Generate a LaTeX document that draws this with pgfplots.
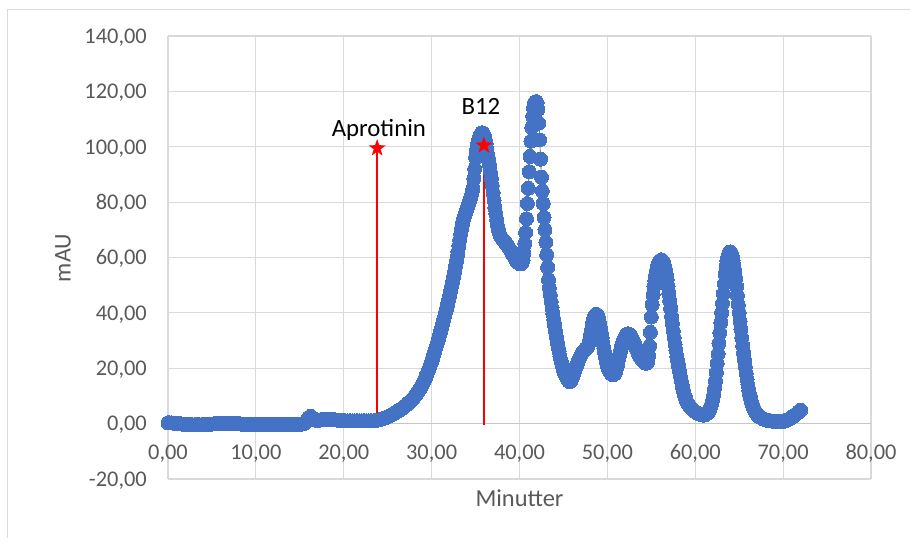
\documentclass[border=0pt]{standalone}
\usepackage{fontspec}
\setmainfont{Carlito}
\usepackage{pgfplots}
\pgfplotsset{compat=1.18}
\usepackage{pgfplotstable}
\definecolor{serblue}{HTML}{4472C4}
\definecolor{txtgray}{HTML}{595959}
\definecolor{gridgray}{HTML}{D9D9D9}
\definecolor{zerogray}{HTML}{C6C6C6}
\definecolor{annred}{HTML}{FF0000}
\pgfdeclareplotmark{fstar}{%
  \pgfpathmoveto{\pgfpointpolar{90}{\pgfplotmarksize}}%
  \pgfpathlineto{\pgfpointpolar{126}{0.4\pgfplotmarksize}}%
  \pgfpathlineto{\pgfpointpolar{162}{\pgfplotmarksize}}%
  \pgfpathlineto{\pgfpointpolar{198}{0.4\pgfplotmarksize}}%
  \pgfpathlineto{\pgfpointpolar{234}{\pgfplotmarksize}}%
  \pgfpathlineto{\pgfpointpolar{270}{0.4\pgfplotmarksize}}%
  \pgfpathlineto{\pgfpointpolar{306}{\pgfplotmarksize}}%
  \pgfpathlineto{\pgfpointpolar{342}{0.4\pgfplotmarksize}}%
  \pgfpathlineto{\pgfpointpolar{18}{\pgfplotmarksize}}%
  \pgfpathlineto{\pgfpointpolar{54}{0.4\pgfplotmarksize}}%
  \pgfpathclose
  \pgfusepathqfill}
\pgfplotstableread[row sep=\\]{
x y\\
0.0 0.3\\ 0.2 0.3\\ 0.4 0.3\\ 0.6 0.2\\ 0.8 0.2\\ 1.0 0.2\\ 1.2 0.1\\ 1.4 0.0\\ 1.6 -0.2\\ 1.8 -0.3\\
2.0 -0.3\\ 2.2 -0.4\\ 2.4 -0.4\\ 2.6 -0.4\\ 2.8 -0.4\\ 3.0 -0.4\\ 3.2 -0.4\\ 3.4 -0.4\\ 3.6 -0.4\\ 3.8 -0.4\\
4.0 -0.3\\ 4.2 -0.3\\ 4.4 -0.3\\ 4.6 -0.3\\ 4.8 -0.2\\ 5.0 -0.2\\ 5.2 -0.1\\ 5.4 0.0\\ 5.6 0.1\\ 5.8 0.1\\
6.0 0.2\\ 6.2 0.2\\ 6.4 0.2\\ 6.6 0.2\\ 6.8 0.2\\ 7.0 0.1\\ 7.2 0.1\\ 7.4 0.1\\ 7.6 0.0\\ 7.8 0.0\\
8.0 0.0\\ 8.2 -0.1\\ 8.4 -0.2\\ 8.6 -0.3\\ 8.8 -0.3\\ 9.0 -0.3\\ 9.2 -0.3\\ 9.4 -0.3\\ 9.6 -0.3\\ 9.8 -0.3\\
10.0 -0.3\\ 10.2 -0.3\\ 10.4 -0.3\\ 10.6 -0.3\\ 10.8 -0.3\\ 11.0 -0.3\\ 11.2 -0.3\\ 11.4 -0.3\\ 11.6 -0.3\\ 11.8 -0.3\\
12.0 -0.3\\ 12.2 -0.3\\ 12.4 -0.3\\ 12.6 -0.3\\ 12.8 -0.3\\ 13.0 -0.3\\ 13.2 -0.3\\ 13.4 -0.3\\ 13.6 -0.3\\ 13.8 -0.3\\
14.0 -0.3\\ 14.2 -0.3\\ 14.4 -0.3\\ 14.6 -0.3\\ 14.8 -0.3\\ 15.0 -0.3\\ 15.2 -0.2\\ 15.4 -0.1\\ 15.6 0.3\\ 15.8 1.2\\
16.0 2.2\\ 16.2 2.6\\ 16.4 2.3\\ 16.6 1.6\\ 16.8 1.2\\ 17.0 1.1\\ 17.2 1.2\\ 17.4 1.4\\ 17.6 1.5\\ 17.8 1.5\\
18.0 1.5\\ 18.2 1.5\\ 18.4 1.5\\ 18.6 1.5\\ 18.8 1.4\\ 19.0 1.4\\ 19.2 1.3\\ 19.4 1.2\\ 19.6 1.2\\ 19.8 1.1\\
20.0 1.1\\ 20.2 1.0\\ 20.4 1.0\\ 20.6 1.0\\ 20.8 1.0\\ 21.0 1.0\\ 21.2 1.0\\ 21.4 1.0\\ 21.6 1.0\\ 21.8 1.0\\
22.0 1.0\\ 22.2 1.0\\ 22.4 1.0\\ 22.6 1.0\\ 22.8 1.0\\ 23.0 1.0\\ 23.2 1.0\\ 23.4 1.0\\ 23.6 1.1\\ 23.8 1.2\\
24.0 1.4\\ 24.2 1.5\\ 24.4 1.7\\ 24.6 1.9\\ 24.8 2.2\\ 25.0 2.5\\ 25.2 2.8\\ 25.4 3.1\\ 25.6 3.5\\ 25.8 3.8\\
26.0 4.2\\ 26.1 4.4\\ 26.2 4.6\\ 26.3 4.8\\ 26.4 5.0\\ 26.5 5.2\\ 26.6 5.4\\ 26.7 5.6\\ 26.8 5.9\\ 26.9 6.1\\
27.0 6.4\\ 27.1 6.7\\ 27.2 7.0\\ 27.3 7.2\\ 27.4 7.5\\ 27.5 7.8\\ 27.6 8.1\\ 27.7 8.5\\ 27.8 8.8\\ 27.9 9.2\\
28.0 9.5\\ 28.1 9.9\\ 28.2 10.3\\ 28.3 10.8\\ 28.4 11.2\\ 28.5 11.7\\ 28.6 12.2\\ 28.7 12.7\\ 28.8 13.3\\ 28.9 13.9\\
29.0 14.5\\ 29.1 15.2\\ 29.2 15.9\\ 29.3 16.6\\ 29.4 17.3\\ 29.5 18.0\\ 29.6 18.9\\ 29.7 19.8\\ 29.8 20.7\\ 29.9 21.6\\
30.0 22.5\\ 30.1 23.5\\ 30.2 24.5\\ 30.3 25.5\\ 30.4 26.5\\ 30.5 27.5\\ 30.6 28.6\\ 30.7 29.7\\ 30.8 30.8\\ 30.9 31.9\\
31.0 33.0\\ 31.1 34.2\\ 31.2 35.4\\ 31.3 36.6\\ 31.4 37.8\\ 31.5 39.0\\ 31.6 40.3\\ 31.7 41.6\\ 31.8 42.9\\ 31.9 44.2\\
32.0 45.5\\ 32.1 47.0\\ 32.2 48.5\\ 32.3 50.0\\ 32.4 51.5\\ 32.5 53.0\\ 32.6 54.8\\ 32.7 56.6\\ 32.8 58.4\\ 32.9 60.2\\
33.0 62.0\\ 33.1 64.2\\ 33.2 66.4\\ 33.3 68.5\\ 33.4 70.2\\ 33.5 71.9\\ 33.6 73.5\\ 33.7 74.5\\ 33.8 75.5\\ 33.9 76.5\\
34.0 77.5\\ 34.1 78.4\\ 34.2 79.3\\ 34.3 80.1\\ 34.4 81.0\\ 34.5 82.2\\ 34.6 83.5\\ 34.7 85.0\\ 34.8 88.5\\ 34.9 92.0\\
35.0 96.0\\ 35.1 98.5\\ 35.2 100.5\\ 35.3 102.0\\ 35.4 103.2\\ 35.5 104.0\\ 35.6 104.6\\ 35.7 105.0\\ 35.8 105.0\\ 35.9 104.7\\
36.0 104.0\\ 36.1 102.6\\ 36.2 101.0\\ 36.3 99.0\\ 36.4 97.0\\ 36.5 95.0\\ 36.6 93.0\\ 36.7 90.7\\ 36.8 88.4\\ 36.9 86.0\\
37.0 83.3\\ 37.1 80.6\\ 37.2 78.0\\ 37.3 75.8\\ 37.4 73.6\\ 37.5 71.5\\ 37.6 70.2\\ 37.7 69.0\\ 37.8 68.0\\ 37.9 67.4\\
38.0 67.0\\ 38.1 66.5\\ 38.2 66.1\\ 38.3 65.7\\ 38.4 65.3\\ 38.5 64.9\\ 38.6 64.5\\ 38.7 64.0\\ 38.8 63.5\\ 38.9 63.0\\
39.0 62.5\\ 39.1 61.9\\ 39.2 61.4\\ 39.3 60.8\\ 39.4 60.2\\ 39.5 59.6\\ 39.6 59.0\\ 39.7 58.6\\ 39.8 58.2\\ 39.9 58.0\\
40.0 57.8\\ 40.1 57.7\\ 40.2 57.8\\ 40.3 58.1\\ 40.4 59.0\\ 40.5 61.5\\ 40.6 65.0\\ 40.7 69.0\\ 40.8 74.0\\ 40.9 79.5\\
41.0 85.0\\ 41.1 91.0\\ 41.2 96.5\\ 41.3 102.0\\ 41.4 107.0\\ 41.5 111.0\\ 41.6 114.0\\ 41.7 115.5\\ 41.8 116.2\\ 41.9 116.3\\
42.0 115.8\\ 42.1 113.5\\ 42.2 108.5\\ 42.3 102.5\\ 42.4 95.5\\ 42.5 89.0\\ 42.6 84.0\\ 42.7 79.5\\ 42.8 74.5\\ 42.9 70.0\\
43.0 65.5\\ 43.1 61.0\\ 43.2 56.5\\ 43.3 52.0\\ 43.4 49.0\\ 43.5 46.5\\ 43.6 44.0\\ 43.7 41.8\\ 43.8 39.7\\ 43.9 37.5\\
44.0 35.4\\ 44.1 33.3\\ 44.2 31.3\\ 44.3 29.4\\ 44.4 27.6\\ 44.5 26.0\\ 44.6 24.4\\ 44.7 23.0\\ 44.8 21.8\\ 44.9 20.6\\
45.0 19.5\\ 45.1 18.6\\ 45.2 17.8\\ 45.3 17.0\\ 45.4 16.3\\ 45.5 15.8\\ 45.6 15.4\\ 45.7 15.2\\ 45.8 15.3\\ 45.9 15.7\\
46.0 16.4\\ 46.1 17.3\\ 46.2 18.3\\ 46.3 19.3\\ 46.4 20.2\\ 46.5 21.0\\ 46.6 21.8\\ 46.7 22.6\\ 46.8 23.3\\ 46.9 24.0\\
47.0 24.7\\ 47.1 25.3\\ 47.2 25.8\\ 47.3 26.2\\ 47.4 26.6\\ 47.5 27.0\\ 47.6 27.3\\ 47.7 27.6\\ 47.8 28.0\\ 47.9 29.0\\
48.0 30.5\\ 48.1 32.2\\ 48.2 34.0\\ 48.3 35.8\\ 48.4 37.2\\ 48.5 38.3\\ 48.6 39.1\\ 48.7 39.5\\ 48.8 39.4\\ 48.9 38.8\\
49.0 37.8\\ 49.1 36.4\\ 49.2 34.8\\ 49.3 33.0\\ 49.4 31.1\\ 49.5 29.2\\ 49.6 27.3\\ 49.7 25.5\\ 49.8 23.8\\ 49.9 22.3\\
50.0 21.0\\ 50.1 20.0\\ 50.2 19.2\\ 50.3 18.6\\ 50.4 18.2\\ 50.5 17.9\\ 50.6 17.7\\ 50.7 17.7\\ 50.8 17.9\\ 50.9 18.4\\
51.0 19.3\\ 51.1 20.5\\ 51.2 21.9\\ 51.3 23.4\\ 51.4 25.0\\ 51.5 26.4\\ 51.6 27.7\\ 51.7 28.8\\ 51.8 29.8\\ 51.9 30.6\\
52.0 31.3\\ 52.1 31.8\\ 52.2 32.2\\ 52.3 32.4\\ 52.4 32.4\\ 52.5 32.2\\ 52.6 31.9\\ 52.7 31.4\\ 52.8 30.8\\ 52.9 30.1\\
53.0 29.4\\ 53.1 28.7\\ 53.2 27.9\\ 53.3 27.1\\ 53.4 26.3\\ 53.5 25.5\\ 53.6 24.8\\ 53.7 24.2\\ 53.8 23.7\\ 53.9 23.2\\
54.0 22.8\\ 54.1 22.4\\ 54.2 22.1\\ 54.3 21.9\\ 54.4 21.8\\ 54.5 21.9\\ 54.6 22.6\\ 54.7 24.5\\ 54.8 28.0\\ 54.9 33.0\\
55.0 38.5\\ 55.1 43.0\\ 55.2 46.5\\ 55.3 49.5\\ 55.4 51.8\\ 55.5 53.8\\ 55.6 55.4\\ 55.7 56.7\\ 55.8 57.7\\ 55.9 58.4\\
56.0 58.9\\ 56.1 59.1\\ 56.2 59.1\\ 56.3 58.7\\ 56.4 58.0\\ 56.5 57.0\\ 56.6 55.8\\ 56.7 54.0\\ 56.8 52.0\\ 56.9 49.5\\
57.0 47.0\\ 57.1 44.3\\ 57.2 41.5\\ 57.3 38.7\\ 57.4 36.0\\ 57.5 33.5\\ 57.6 31.0\\ 57.7 28.7\\ 57.8 26.5\\ 57.9 24.4\\
58.0 22.5\\ 58.1 20.7\\ 58.2 19.0\\ 58.3 17.2\\ 58.4 15.5\\ 58.5 14.0\\ 58.6 12.5\\ 58.7 11.2\\ 58.8 10.0\\ 58.9 9.1\\
59.0 8.2\\ 59.1 7.6\\ 59.2 7.1\\ 59.3 6.6\\ 59.4 6.2\\ 59.5 5.8\\ 59.6 5.4\\ 59.7 5.1\\ 59.8 4.8\\ 59.9 4.5\\
60.0 4.3\\ 60.1 4.1\\ 60.2 3.9\\ 60.3 3.7\\ 60.4 3.6\\ 60.5 3.5\\ 60.6 3.4\\ 60.7 3.3\\ 60.8 3.2\\ 60.9 3.1\\
61.0 3.1\\ 61.1 3.2\\ 61.2 3.3\\ 61.3 3.5\\ 61.4 3.8\\ 61.5 4.2\\ 61.6 4.7\\ 61.7 5.4\\ 61.8 6.3\\ 61.9 7.4\\
62.0 8.8\\ 62.1 10.5\\ 62.2 12.8\\ 62.3 15.5\\ 62.4 18.5\\ 62.5 21.8\\ 62.6 25.2\\ 62.7 29.0\\ 62.8 32.8\\ 62.9 36.5\\
63.0 40.0\\ 63.1 43.5\\ 63.2 47.0\\ 63.3 50.5\\ 63.4 54.0\\ 63.5 56.8\\ 63.6 58.8\\ 63.7 60.3\\ 63.8 61.3\\ 63.9 61.9\\
64.0 62.0\\ 64.1 61.6\\ 64.2 60.6\\ 64.3 59.0\\ 64.4 57.2\\ 64.5 55.0\\ 64.6 52.3\\ 64.7 49.5\\ 64.8 46.3\\ 64.9 43.0\\
65.0 40.0\\ 65.1 37.0\\ 65.2 34.0\\ 65.3 31.0\\ 65.4 28.2\\ 65.5 25.5\\ 65.6 23.0\\ 65.7 20.5\\ 65.8 18.2\\ 65.9 16.0\\
66.0 14.0\\ 66.1 12.0\\ 66.2 10.4\\ 66.3 9.0\\ 66.4 7.8\\ 66.5 6.8\\ 66.6 6.0\\ 66.7 5.3\\ 66.8 4.6\\ 66.9 4.0\\
67.0 3.5\\ 67.1 3.1\\ 67.2 2.8\\ 67.3 2.5\\ 67.4 2.3\\ 67.5 2.1\\ 67.6 1.9\\ 67.7 1.7\\ 67.8 1.6\\ 67.9 1.5\\
68.0 1.4\\ 68.2 1.2\\ 68.4 1.1\\ 68.6 1.0\\ 68.8 0.9\\ 69.0 0.8\\ 69.2 0.8\\ 69.4 0.7\\ 69.6 0.7\\ 69.8 0.7\\
70.0 0.8\\ 70.2 1.0\\ 70.4 1.2\\ 70.6 1.5\\ 70.8 1.9\\ 71.0 2.3\\ 71.2 2.8\\ 71.4 3.3\\ 71.6 3.8\\ 71.8 4.3\\
72.0 4.9\\
}\chrom
\begin{document}
\begin{tikzpicture}[x=1pt,y=1pt]
\path[use as bounding box] (0,0) rectangle (910,538);
\draw[gridgray, line width=1pt] (7,0) -- (7,528) -- (911,528);
\begin{axis}[
  at={(168pt,59pt)}, anchor=south west,
  width=703pt, height=443pt, scale only axis,
  xmin=0, xmax=80, ymin=-20, ymax=140,
  axis line style={draw=none},
  grid=major, grid style={gridgray, line width=1.2pt},
  xtick={0,10,...,80}, ytick={-20,0,...,140},
  major tick length=0pt,
  extra y ticks={0}, extra y tick labels={},
  extra y tick style={grid style={zerogray, line width=1.3pt}},
  /pgf/number format/fixed, /pgf/number format/fixed zerofill,
  /pgf/number format/precision=2, /pgf/number format/use comma,
  /pgf/number format/assume math mode=true,
  xticklabel style={anchor=base, inner sep=0pt, yshift=19pt,
    font=\fontsize{22.4}{26}\selectfont, text=txtgray},
  yticklabel style={anchor=base east, inner sep=0pt, xshift=-21pt, yshift=-7.3pt,
    font=\fontsize{22.4}{26}\selectfont, text=txtgray},
  unbounded coords=jump,
]
\addplot[draw=black!80, line width=0.6pt, no marks] table[x=x, y=y] {\chrom};
\addplot[only marks, mark=*, mark size=7pt, draw=serblue, fill=serblue,
  mark options={draw=serblue, fill=serblue, line width=0pt}] table[x=x, y=y] {\chrom};
\addplot[color=annred, line width=1.6pt, no marks]
  coordinates {(23.8,-1) (23.8,99.5) (nan,nan) (35.95,-0.5) (35.95,100.5)};
\addplot[only marks, mark=fstar, mark size=9pt, color=annred,
  mark options={fill=annred, draw=annred}] coordinates {(23.8,99.5) (35.95,100.5)};
\node[anchor=base, inner sep=0pt, font=\fontsize{24.8}{29}\selectfont] at (axis cs:24.0,103.6) {Aprotinin};
\node[anchor=base, inner sep=0pt, font=\fontsize{24.8}{29}\selectfont] at (axis cs:35.6,111.7) {B12};
\end{axis}
\node[text=txtgray, font=\fontsize{24.4}{29}\selectfont] at (519.5,40) {Minutter};
\node[text=txtgray, rotate=90, font=\fontsize{24}{29}\selectfont] at (63,280) {mAU};
\end{tikzpicture}
\end{document}
